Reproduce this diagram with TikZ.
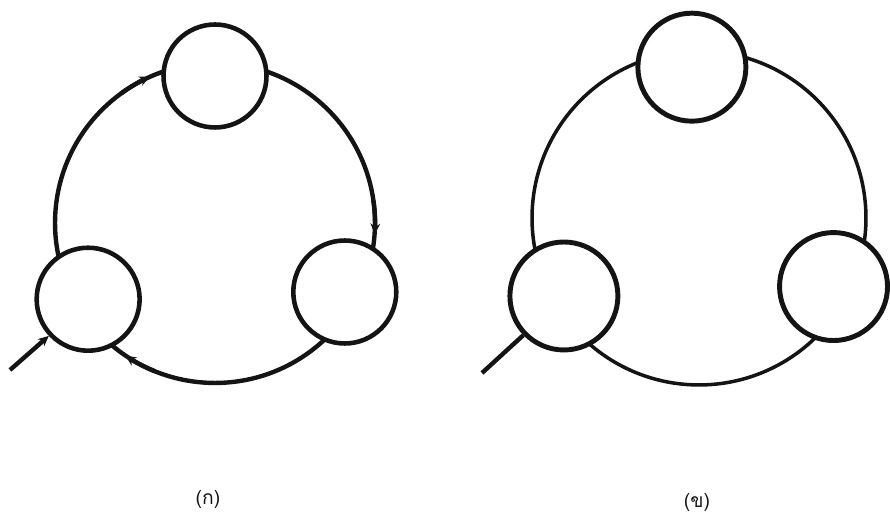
\documentclass[tikz,border=0pt]{standalone}
\usepackage{fontspec}
\newfontfamily\thaifont[Script=Thai]{Loma}
\usepackage{tikz}
\usetikzlibrary{arrows.meta, calc}
\definecolor{myink}{RGB}{20,20,20}
\tikzset{
  station/.style={circle, draw=myink, fill=white, inner sep=0pt,
    minimum size=2.06cm, line width=2.6pt},
  bigstation/.style={station, minimum size=2.16cm, line width=2.8pt},
  ring/.style={line width=2.5pt, color=myink},
  thinring/.style={line width=2pt, color=myink},
  arrow/.style={-{Stealth[length=6pt, width=5.5pt]}, line width=2.5pt, color=myink},
  caption/.style={font=\thaifont\fontsize{11}{13}\selectfont, color=myink}
}

\begin{document}
\begin{tikzpicture}[x=0.02cm, y=0.02cm]
  \useasboundingbox (0,0) rectangle (890,519);

  % Ring (a)
  \coordinate (ctrA) at (215,296);
  \draw[ring] (ctrA) circle[radius=3.2cm];
  % Flow marks on the ring
  \draw[arrow] ($(ctrA)+(126:160)$) arc[start angle=126, end angle=114, radius=3.2cm];
  \draw[arrow] ($(ctrA)+(8:160)$) arc[start angle=8, end angle=-4, radius=3.2cm];
  \draw[arrow] ($(ctrA)+(248:160)$) arc[start angle=248, end angle=236, radius=3.2cm];
  % Stations
  \node[station] (topA) at ($(ctrA)+(90:147)$) {};
  \node[station] (leftA) at ($(ctrA)+(211:148)$) {};
  \node[station] (rightA) at ($(ctrA)+(332:147)$) {};
  % Input
  \coordinate (inA) at (10,149);
  \draw[arrow] (inA) -- (leftA.223);
  \node[caption] (capA) at (208,19) {(ก)};

  % Ring (b)
  \coordinate (ctrB) at (699,301);
  \draw[thinring] (ctrB) circle[radius=3.34cm];
  % Stations
  \node[bigstation] (topB) at ($(ctrB)+(92.7:151)$) {};
  \node[bigstation] (leftB) at ($(ctrB)+(210:156)$) {};
  \node[bigstation] (rightB) at ($(ctrB)+(333:151)$) {};
  % Input
  \coordinate (inB) at (482,146);
  \draw[ring] (inB) -- (leftB.224);
  \node[caption] (capB) at (697,16) {(ข)};
\end{tikzpicture}
\end{document}
